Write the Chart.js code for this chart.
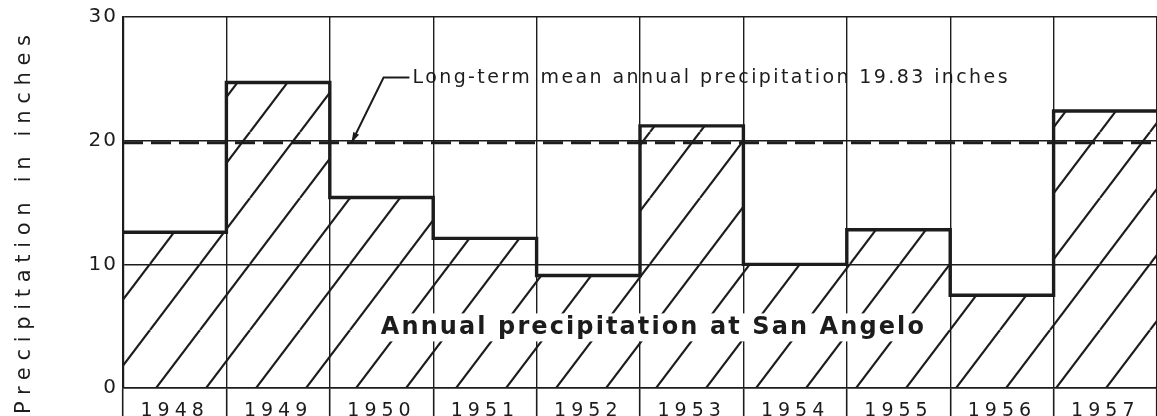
<!DOCTYPE html>
<html>
<head>
<meta charset="utf-8">
<script src="https://cdn.jsdelivr.net/npm/chart.js"></script>
<style>
  html, body { margin: 0; padding: 0; background: #fff; }
  #wrap { width: 1157px; height: 416px; }
</style>
</head>
<body>
<div id="wrap"><canvas id="chart"></canvas></div>
<script>
// data
const years = ['1948', '1949', '1950', '1951', '1952', '1953', '1954', '1955', '1956', '1957'];
const precip = [12.6, 24.7, 15.4, 12.1, 9.1, 21.2, 10.0, 12.8, 7.5, 22.4];
const meanPrecip = 19.83;
const yTicks = [0, 10, 20, 30];

const yTitle = 'Precipitation in inches';
const meanText = 'Long-term mean annual precipitation 19.83 inches';
const seriesText = 'Annual precipitation at San Angelo';

const ink = '#1c1c1c';
const font = 'DejaVu Sans';

// diagonal hatch used to fill under the step line
function makeHatch() {
  const w = 50, h = 66;
  const c = document.createElement('canvas');
  c.width = w; c.height = h;
  const g = c.getContext('2d');
  g.strokeStyle = ink;
  g.lineWidth = 2.2;
  [-w, 0, w].forEach(dx => {
    g.beginPath();
    g.moveTo(dx, h);
    g.lineTo(dx + w, 0);
    g.stroke();
  });
  return g.createPattern(c, 'repeat');
}

const first = +years[0] - 0.5;
const last = +years[years.length - 1] + 0.5;

const stepPoints = years.map((y, i) => ({ x: +y - 0.5, y: precip[i] }));
stepPoints.push({ x: last, y: precip[precip.length - 1] });

const meanPoints = [{ x: first, y: meanPrecip }, { x: last, y: meanPrecip }];

// text labels inside the plot, in data units
const meanLabelPos = { x: 1950.3, y: 25.1 };
const leaderPts = [[1950.27, 25.1], [1950.02, 25.1], [1949.71, meanPrecip]];
const seriesLabelPos = { x: 1952.62, y: 4.9 };

// tick labels are lettered wide on the plate
const tickSpacing = { x: '5px', y: '2px' };
const spacing = {
  id: 'spacing',
  afterLayout(chart) {
    Object.keys(tickSpacing).forEach(id => {
      const s = chart.scales[id];
      if (!s || s._spaced) return;
      const orig = s.drawLabels.bind(s);
      s.drawLabels = function (area) {
        const ctx = chart.ctx;
        ctx.save();
        ctx.letterSpacing = tickSpacing[id];
        orig(area);
        ctx.restore();
      };
      s._spaced = true;
    });
  }
};

const notes = {
  id: 'notes',
  afterDatasetsDraw(chart) {
    const ctx = chart.ctx;
    const xs = chart.scales.xl, ys = chart.scales.y;
    ctx.save();

    // series label on a white box
    ctx.font = 'bold 24px ' + font;
    ctx.letterSpacing = '2.1px';
    ctx.textAlign = 'center';
    ctx.textBaseline = 'middle';
    const sx = xs.getPixelForValue(seriesLabelPos.x);
    const sy = ys.getPixelForValue(seriesLabelPos.y);
    const sw = ctx.measureText(seriesText).width;
    ctx.fillStyle = '#fff';
    ctx.fillRect(sx - sw / 2 - 6, sy - 14, sw + 12, 28);
    ctx.fillStyle = ink;
    ctx.fillText(seriesText, sx + 1, sy);

    // mean label and leader arrow
    ctx.font = '19px ' + font;
    ctx.letterSpacing = '2.4px';
    ctx.textAlign = 'left';
    ctx.fillText(meanText, xs.getPixelForValue(meanLabelPos.x), ys.getPixelForValue(meanLabelPos.y));

    const p = leaderPts.map(([a, b]) => [xs.getPixelForValue(a), ys.getPixelForValue(b)]);
    ctx.strokeStyle = ink;
    ctx.lineWidth = 2;
    ctx.beginPath();
    ctx.moveTo(p[0][0], p[0][1]);
    ctx.lineTo(p[1][0], p[1][1]);
    ctx.lineTo(p[2][0], p[2][1]);
    ctx.stroke();
    const ang = Math.atan2(p[2][1] - p[1][1], p[2][0] - p[1][0]);
    ctx.beginPath();
    ctx.moveTo(p[2][0], p[2][1]);
    ctx.lineTo(p[2][0] - 11 * Math.cos(ang - 0.3), p[2][1] - 11 * Math.sin(ang - 0.3));
    ctx.lineTo(p[2][0] - 11 * Math.cos(ang + 0.3), p[2][1] - 11 * Math.sin(ang + 0.3));
    ctx.closePath();
    ctx.fillStyle = ink;
    ctx.fill();
    ctx.restore();
  },
  afterDraw(chart) {
    const ctx = chart.ctx;
    const a = chart.chartArea;
    ctx.save();
    ctx.translate(25, (a.top + 416) / 2 + 8);
    ctx.rotate(-Math.PI / 2);
    ctx.font = '21px ' + font;
    ctx.letterSpacing = '6.7px';
    ctx.textAlign = 'center';
    ctx.textBaseline = 'middle';
    ctx.fillStyle = ink;
    ctx.fillText(yTitle, 3.3, 0);
    ctx.restore();
  }
};

new Chart(document.getElementById('chart'), {
  type: 'line',
  data: {
    labels: years,
    datasets: [
      {
        label: 'Annual precipitation',
        xAxisID: 'xl',
        data: stepPoints,
        stepped: 'before',
        borderColor: ink,
        borderWidth: 3.4,
        backgroundColor: makeHatch(),
        fill: 'origin',
        pointRadius: 0,
        order: 2
      },
      {
        label: 'Long-term mean',
        xAxisID: 'xl',
        data: meanPoints,
        borderColor: ink,
        borderWidth: 3,
        borderDash: [20, 8],
        fill: false,
        pointRadius: 0,
        order: 1
      }
    ]
  },
  options: {
    responsive: true,
    maintainAspectRatio: false,
    animation: false,
    layout: { padding: { top: 17, right: -3, left: 0, bottom: 0 } },
    plugins: { legend: { display: false }, tooltip: { enabled: false } },
    scales: {
      x: {
        type: 'category',
        offset: true,
        grid: { offset: true, color: ink, lineWidth: 1.4, tickLength: 28, tickColor: ink, tickWidth: 1.6 },
        border: { color: ink, width: 1.6 },
        ticks: { color: ink, padding: -16, font: { family: font, size: 19 } },
        afterFit(s) { s.height = 28; }
      },
      xl: {
        type: 'linear',
        display: false,
        min: first,
        max: last
      },
      y: {
        min: yTicks[0],
        max: yTicks[yTicks.length - 1],
        afterBuildTicks(s) { s.ticks = yTicks.map(v => ({ value: v })); },
        grid: { color: ink, lineWidth: 1.4, drawTicks: false },
        border: { color: ink, width: 2.2 },
        ticks: { color: ink, padding: 5, font: { family: font, size: 20 } },
        afterFit(s) { s.width = 123; }
      }
    }
  },
  plugins: [spacing, notes]
});
</script>
</body>
</html>
